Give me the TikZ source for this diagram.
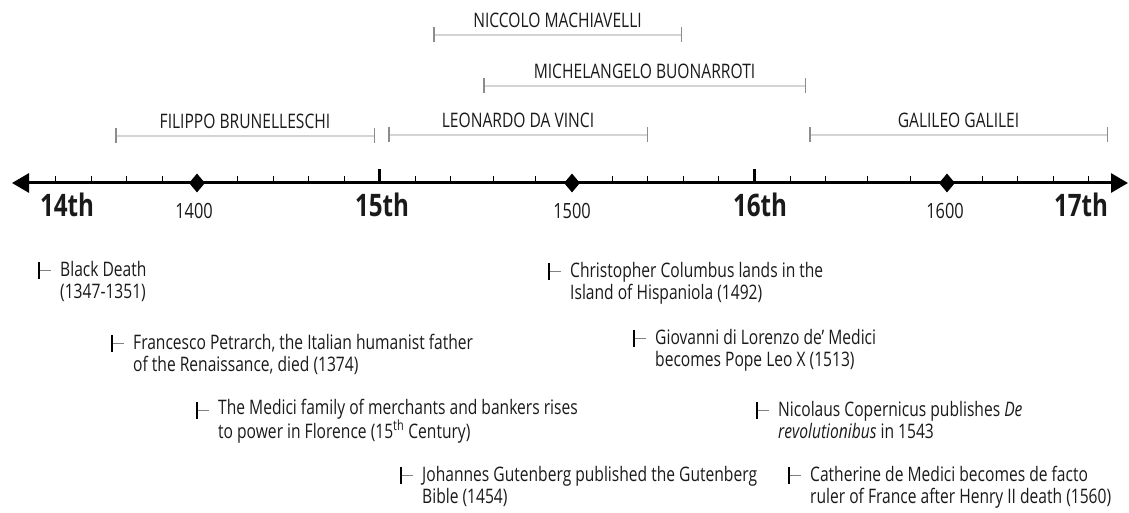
\documentclass[tikz,border=0pt]{standalone}
\usepackage{fontspec}
\setmainfont{Open Sans}[FakeStretch=0.78]
\usetikzlibrary{arrows.meta}
\usetikzlibrary{shapes.geometric}
\usetikzlibrary{calc}

\definecolor{ink}{HTML}{1A1A1A}
\definecolor{spanline}{HTML}{D4D4D4}
\definecolor{spanend}{HTML}{8C8C8C}

\tikzset{
    axis/.style={line width=3pt, {Triangle[length=17pt,width=19pt]}-{Triangle[length=17pt,width=19pt]}},
    decade/.style={line width=1pt},
    century/.style={line width=3pt},
    yearmark/.style={diamond, fill=black, inner sep=0pt, minimum width=16pt, minimum height=19pt},
    centlabel/.style={font=\fontsize{31}{31}\selectfont\bfseries, text=ink},
    yearlabel/.style={font=\fontsize{21}{21}\selectfont, text=ink},
    lifespan/.style={draw=spanline, line width=1.5pt, {Bar[width=15pt,line width=1.5pt,color=spanend]}-{Bar[width=15pt,line width=1.5pt,color=spanend]}},
    lifelabel/.style={font=\fontsize{20}{20}\selectfont, text=ink, midway, above=3pt},
    event/.style={font=\fontsize{20}{21.5}\selectfont, text=ink, align=left, anchor=base west, inner sep=0pt},
    evbar/.style={line width=2.5pt},
    evdash/.style={draw=gray, line width=1pt}
}

\begin{document}
\begin{tikzpicture}[x=1pt, y=-1pt]
    \useasboundingbox (0,0) rectangle (1129,513);

    % lifespans
    \draw[lifespan] (433,35) -- node[lifelabel] (mach) {NICCOLO MACHIAVELLI} (682,35);
    \draw[lifespan] (483,86) -- node[lifelabel] (mich) {MICHELANGELO BUONARROTI} (806,86);
    \draw[lifespan] (115,136) -- node[lifelabel] (brun) {FILIPPO BRUNELLESCHI} (375,136);
    \draw[lifespan] (388,135) -- node[lifelabel] (leo) {LEONARDO DA VINCI} (648,135);
    \draw[lifespan] (809,135) -- node[lifelabel] (gal) {GALILEO GALILEI} (1108,135);

    % axis
    \draw[axis] (12,183) -- (1128,183);
    \foreach \x in {55,91,126,162,237,273,308,344,415,450,493,535,612,647,683,718,790,825,867,910,982,1017,1053,1088}
        \draw[decade] (\x,176) -- (\x,183);
    \draw[century] (379,169) -- (379,183);
    \draw[century] (754,169) -- (754,183);
    \node[yearmark] (d1400) at (197,183) {};
    \node[yearmark] (d1500) at (572,183) {};
    \node[yearmark] (d1600) at (947,183) {};

    \node[centlabel] (c14) at (67,205) {14th};
    \node[centlabel] (c15) at (382,205) {15th};
    \node[centlabel] (c16) at (760,205) {16th};
    \node[centlabel] (c17) at (1081,205) {17th};
    \node[yearlabel] (y1400) at (194,211) {1400};
    \node[yearlabel] (y1500) at (572,211) {1500};
    \node[yearlabel] (y1600) at (945,211) {1600};

    % events (placed by the baseline of their second line)
    \node[event] (black) at (60,298) {Black Death\\(1347-1351)};
    \node[event] (petr) at (133,371) {Francesco Petrarch, the Italian humanist father\\of the Renaissance, died (1374)};
    \node[event] (medici) at (218,438) {The Medici family of merchants and bankers rises\\to power in Florence (15\textsuperscript{th} Century)};
    \node[event] (guten) at (422,503) {Johannes Gutenberg published the Gutenberg\\Bible (1454)};
    \node[event] (colum) at (570,299) {Christopher Columbus lands in the\\Island of Hispaniola (1492)};
    \node[event] (leox) at (655,366) {Giovanni di Lorenzo de' Medici\\becomes Pope Leo X (1513)};
    \node[event] (coper) at (778,438) {Nicolaus Copernicus publishes \textit{De}\\\textit{revolutionibus} in 1543};
    \node[event] (cath) at (810,503) {Catherine de Medici becomes de facto\\ruler of France after Henry II death (1560)};

    \foreach \ev in {black,petr,medici,guten,colum,leox,coper,cath} {
        \draw[evbar] ($(\ev.base west)+(-21,-36)$) -- ++(0,17);
        \draw[evdash] ($(\ev.base west)+(-20,-28)$) -- ++(11,0);
    }
\end{tikzpicture}
\end{document}
